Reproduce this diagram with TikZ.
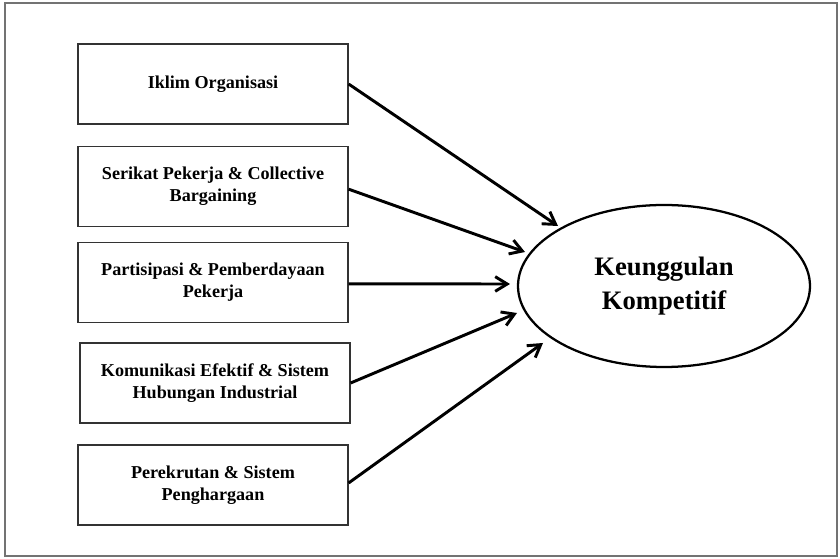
\documentclass[tikz,border=0pt]{standalone}
\usepackage{fontspec}
\setmainfont{Liberation Serif}
\usetikzlibrary{shapes.geometric,arrows.meta}
\begin{document}
\begin{tikzpicture}[x=0.75pt,y=-0.75pt,
  boxnode/.style={draw=black!80,line width=0.9pt,minimum width=202.5pt,minimum height=60pt,
    align=center,inner sep=0pt,font=\bfseries\fontsize{13.6}{16.5}\selectfont},
  ellnode/.style={ellipse,draw=black,line width=1.7pt,minimum width=219pt,minimum height=121.5pt,
    align=center,inner sep=0pt,font=\bfseries\fontsize{20}{26}\selectfont},
  conn/.style={line width=2.2pt,-{Straight Barb[length=9pt,width=11pt]}}]
\useasboundingbox (0,0) rectangle (840,559);
\draw[draw=black!55,line width=1.1pt] (5,3) rectangle (837,556);
\node[boxnode] (b1) at (213,84) {Iklim Organisasi};
\node[boxnode] (b2) at (213,186.5) {Serikat Pekerja \& Collective\\Bargaining};
\node[boxnode] (b3) at (213,282.5) {Partisipasi \& Pemberdayaan\\Pekerja};
\node[boxnode] (b4) at (215,383) {Komunikasi Efektif \& Sistem\\Hubungan Industrial};
\node[boxnode] (b5) at (213,485) {Perekrutan \& Sistem\\Penghargaan};
\node[ellnode] (e) at (664,286) {Keunggulan\\Kompetitif};
\coordinate (t1) at (558,226);
\coordinate (t2) at (525,252);
\coordinate (t3) at (510,284);
\coordinate (t4) at (517,313);
\coordinate (t5) at (543,343);
\draw[conn] (b1.east) -- (t1);
\draw[conn] ([yshift=-2pt]b2.east) -- (t2);
\draw[conn] ([yshift=-1pt]b3.east) -- (t3);
\draw[conn] (b4.east) -- (t4);
\draw[conn] ([yshift=1.5pt]b5.east) -- (t5);
\end{tikzpicture}
\end{document}
